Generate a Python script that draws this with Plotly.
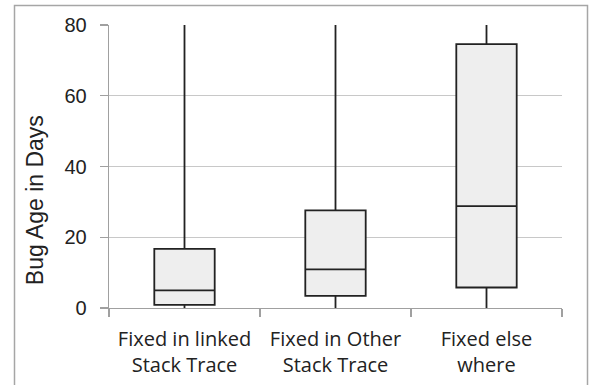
import plotly.graph_objects as go

categories = ["Fixed in linked Stack Trace", "Fixed in Other Stack Trace", "Fixed else where"]
tick_labels = ["Fixed in linked<br>Stack Trace", "Fixed in Other<br>Stack Trace", "Fixed else<br>where"]
lower_fence = [0, 0, 0]
q1 = [0.9, 3.4, 5.8]
median = [5.0, 10.9, 28.8]
q3 = [16.7, 27.6, 74.6]
upper_fence = [150, 150, 150]
y_ticks = [0, 20, 40, 60, 80]

W, H = 589, 385
L, R, T, B = 109, 27, 24.5, 77
pw, ph = W - L - R, H - T - B

def px_x(x):
    return (x - L) / pw

def px_y(y):
    return (H - B - y) / ph

fig = go.Figure()
fig.add_trace(go.Box(
    x=categories,
    q1=q1, median=median, q3=q3,
    lowerfence=lower_fence, upperfence=upper_fence,
    fillcolor="#eeeeee",
    line=dict(color="#222222", width=1.8),
    whiskerwidth=0,
    boxpoints=False,
    hoverinfo="skip",
    showlegend=False,
))

fig.update_layout(
    width=W, height=H,
    margin=dict(l=L, r=R, t=T, b=B, autoexpand=False),
    paper_bgcolor="white", plot_bgcolor="white",
    boxgap=0.6, boxgroupgap=0,
    showlegend=False,
    xaxis=dict(
        type="category", automargin=False,
        categoryorder="array", categoryarray=categories,
        tickmode="array", tickvals=categories, ticktext=tick_labels,
        tickson="boundaries",
        ticks="outside", ticklen=8, tickcolor="#a0a0a0", tickwidth=1.3,
        showline=True, linecolor="#a0a0a0", linewidth=1.3,
        showgrid=False,
        tickfont=dict(family="Open Sans", size=20, color="#222222"),
        ticklabelstandoff=13,
        range=[-0.5, 2.5],
    ),
    yaxis=dict(
        range=[0, 80], automargin=False,
        tickmode="array", tickvals=y_ticks,
        ticks="outside", ticklen=8, tickcolor="#a0a0a0", tickwidth=1.3,
        showline=True, linecolor="#a0a0a0", linewidth=1.3,
        showgrid=True, gridcolor="#c8c8c8", gridwidth=1.3,
        zeroline=False,
        tickfont=dict(family="Liberation Sans, Arial", size=20, color="#222222"),
        ticklabelstandoff=9,
    ),
    annotations=[dict(
        text="Bug Age in Days", textangle=-90,
        x=px_x(35), y=px_y(200), xref="paper", yref="paper",
        xanchor="center", yanchor="middle", showarrow=False,
        font=dict(family="Liberation Sans, Arial", size=23, color="#222222"),
    )],
    shapes=[dict(
        type="rect", xref="paper", yref="paper",
        x0=px_x(14.5), x1=px_x(587.5), y0=px_y(400), y1=px_y(5),
        line=dict(color="#a6a6a6", width=1.5), fillcolor="rgba(0,0,0,0)",
        layer="below",
    )],
)

fig.write_html(
    "out.html",
    config={"displayModeBar": False, "staticPlot": True},
    post_script="document.body.style.margin='0';document.body.style.padding='0';document.body.style.overflow='hidden';",
)
